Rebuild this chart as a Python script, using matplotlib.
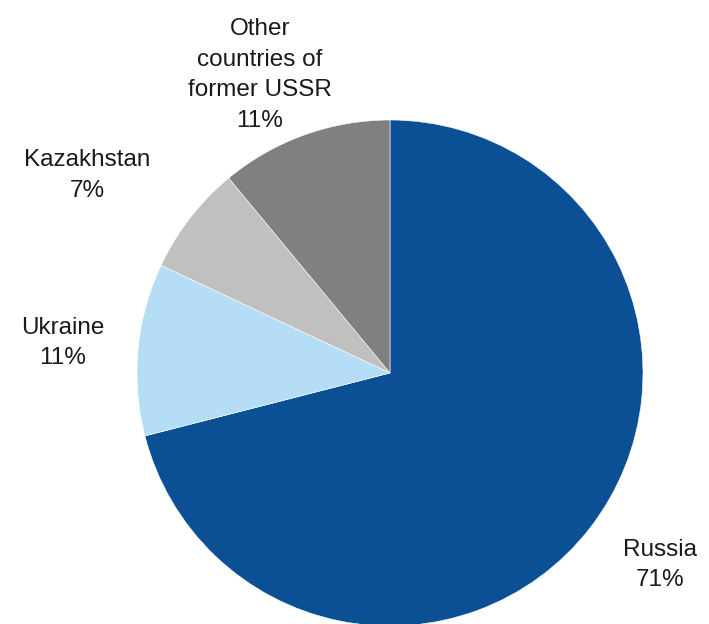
import numpy as np
import matplotlib.pyplot as plt

labels = ['Russia', 'Ukraine', 'Kazakhstan', 'Other\ncountries of\nformer USSR']
shares = [71, 11, 7, 11]
colors = ['#0B4F94', '#B5DDF6', '#C0C0C0', '#808080']

# label placement: radius (in pie radii) and angle (deg) from centre
label_r = [1.31, 1.30, 1.43, 1.285]
label_ang = [-35.4, 174.8, 146.9, 113.6]

plt.rcParams['font.family'] = ['Liberation Sans', 'DejaVu Sans']

fig = plt.figure(figsize=(7.09, 6.24), dpi=100)
ax = fig.add_axes([0, 0, 1, 1])

wedges, _ = ax.pie(shares, colors=colors, startangle=90, counterclock=False,
                   radius=1, wedgeprops=dict(edgecolor='white', linewidth=0.4))

for lab, v, r, a in zip(labels, shares, label_r, label_ang):
    t = np.deg2rad(a)
    ax.text(r * np.cos(t), r * np.sin(t), f'{lab}\n{v}%', ha='center', va='center',
            fontsize=17.5, color='#1a1a1a', linespacing=1.5)

R = 253.0
ax.set_xlim(-390 / R, (709 - 390) / R)
ax.set_ylim(-(624 - 373) / R, 373 / R)
ax.set_aspect('auto')
ax.axis('off')

fig.savefig('out.png', dpi=100)
